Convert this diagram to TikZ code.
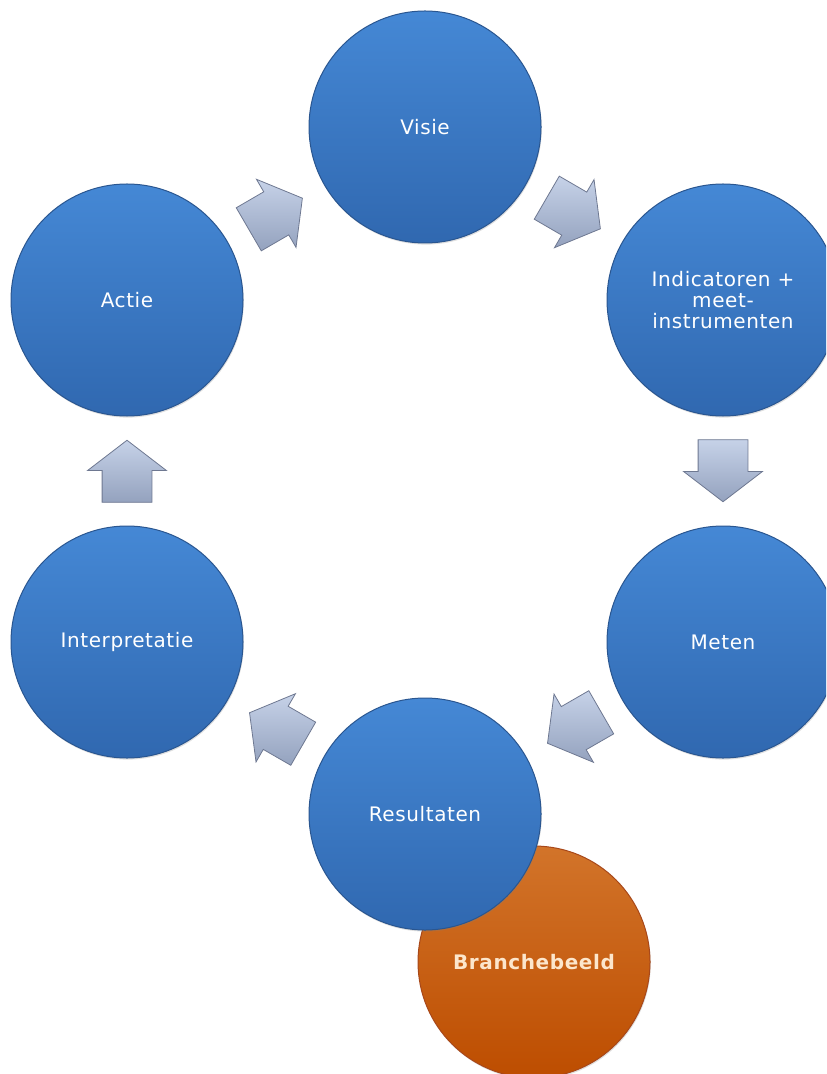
\documentclass[tikz,border=0pt]{standalone}
\usepackage{fontspec}
\setmainfont[LetterSpace=3]{DejaVu Sans}
\usetikzlibrary{shapes.arrows,shadows}
\definecolor{blauwlicht}{HTML}{4588D5}
\definecolor{blauwdonker}{HTML}{3068B0}
\definecolor{blauwrand}{HTML}{2A5690}
\definecolor{oranjelicht}{HTML}{D2742A}
\definecolor{oranjedonker}{HTML}{BD4D00}
\definecolor{oranjerand}{HTML}{A8481A}
\definecolor{creme}{HTML}{FCE6CC}
\definecolor{pijllicht}{HTML}{C6D2E8}
\definecolor{pijldonker}{HTML}{94A2BE}
\definecolor{pijlrand}{HTML}{6E7891}
\begin{document}
\begin{tikzpicture}[x=0.5pt,y=-0.5pt,
    stap/.style={circle,minimum size=116pt,inner sep=0pt,align=center,text=white,
        top color=blauwlicht,bottom color=blauwdonker,draw=blauwrand,line width=0.5pt,
        drop shadow={opacity=0.25,shadow xshift=0.4pt,shadow yshift=-0.8pt},
        font=\fontsize{10}{10.5}\selectfont},
    branche/.style={stap,top color=oranjelicht,bottom color=oranjedonker,draw=oranjerand,
        text=creme,font=\bfseries\fontsize{10}{10.5}\selectfont},
    pijl/.style={single arrow,pos=0.41,sloped,allow upside down,minimum height=31pt,minimum width=39pt,
        single arrow head extend=7.25pt,single arrow tip angle=105,inner xsep=0pt,inner ysep=12.25pt,
        top color=pijllicht,bottom color=pijldonker,draw=pijlrand,line width=0.4pt}]
        \clip (0,0) rectangle (826,1074);
        \node[branche] (branche) at (534,962) {Branchebeeld};
        \node[stap] (visie) at (425,127) {Visie};
        \node[stap] (indicatoren) at (723,300) {Indicatoren +\\meet-\\instrumenten};
        \node[stap] (meten) at (723,642) {Meten};
        \node[stap] (resultaten) at (425,814) {Resultaten};
        \node[stap] (interpretatie) at (127,642) {Interpretatie};
        \node[stap] (actie) at (127,300) {Actie};
        \path (actie) -- node[pijl] {} (visie);
        \path (visie) -- node[pijl] {} (indicatoren);
        \path (indicatoren) -- node[pijl] {} (meten);
        \path (meten) -- node[pijl] {} (resultaten);
        \path (resultaten) -- node[pijl] {} (interpretatie);
        \path (interpretatie) -- node[pijl] {} (actie);
\end{tikzpicture}
\end{document}
